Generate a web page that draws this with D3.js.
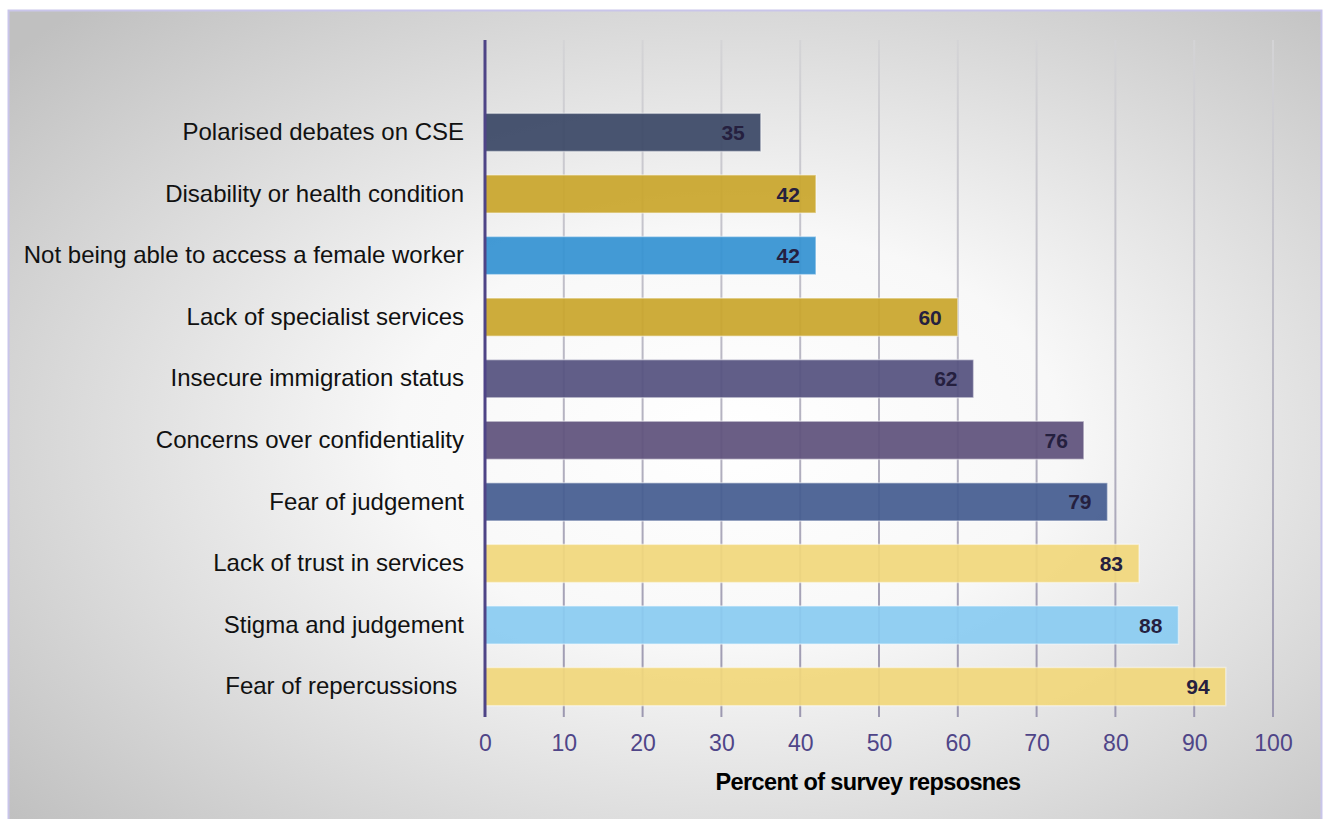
<!DOCTYPE html>
<html>
<head>
<meta charset="utf-8">
<script src="https://cdn.jsdelivr.net/npm/d3@7"></script>
<style>
  body { margin: 0; background: #fff; }
  svg { display: block; font-family: "Liberation Sans", Arial, sans-serif; }
  .cat text { white-space: pre; }
</style>
</head>
<body>
<div id="chart"></div>
<script>
// chart values
const categories = [
  "Polarised debates on CSE",
  "Disability or health condition",
  "Not being able to access a female worker",
  "Lack of specialist services",
  "Insecure immigration status",
  "Concerns over confidentiality",
  "Fear of judgement",
  "Lack of trust in services",
  "Stigma and judgement",
  "Fear of repercussions "
];
const values = [35, 42, 42, 60, 62, 76, 79, 83, 88, 94];
const barColors = [
  "#3b4866", "#c9a62c", "#3592d2", "#c9a62c", "#55527f",
  "#5f527c", "#455d90", "#f1d77c", "#8acbf1", "#f1d77c"
];
const xTicks = [0, 10, 20, 30, 40, 50, 60, 70, 80, 90, 100];
const xTitle = "Percent of survey repsosnes";

const W = 1325, H = 819;
const svg = d3.select("#chart").append("svg")
  .attr("width", W).attr("height", H);

const defs = svg.append("defs");
const bg = defs.append("radialGradient")
  .attr("id", "bg")
  .attr("cx", 0.55).attr("cy", 0.52).attr("r", 0.72);
bg.append("stop").attr("offset", "0%").attr("stop-color", "#ffffff");
bg.append("stop").attr("offset", "35%").attr("stop-color", "#f8f8f8");
bg.append("stop").attr("offset", "100%").attr("stop-color", "#c0c0c0");

const gridGrad = defs.append("linearGradient")
  .attr("id", "grid")
  .attr("gradientUnits", "userSpaceOnUse")
  .attr("x1", 0).attr("y1", 40).attr("x2", 0).attr("y2", 717);
gridGrad.append("stop").attr("offset", "0%").attr("stop-color", "#d4d4d6");
gridGrad.append("stop").attr("offset", "100%").attr("stop-color", "#9c98b0");

// panel
svg.append("rect")
  .attr("x", 8.5).attr("y", 10.5)
  .attr("width", 1313).attr("height", 820)
  .attr("fill", "url(#bg)")
  .attr("stroke", "#c9c5ea")
  .attr("stroke-width", 2);

const x = d3.scaleLinear().domain([0, 100]).range([485, 1273]);
const y = d3.scaleBand()
  .domain(categories)
  .range([101, 718])
  .paddingInner(0.38)
  .paddingOuter(0.2);

// gridlines
svg.append("g")
  .selectAll("line")
  .data(xTicks.filter(d => d > 0))
  .join("line")
  .attr("x1", d => x(d)).attr("x2", d => x(d))
  .attr("y1", 40).attr("y2", 717)
  .attr("stroke", "url(#grid)")
  .attr("stroke-width", 2);

// bars
svg.append("g")
  .selectAll("rect")
  .data(categories)
  .join("rect")
  .attr("x", x(0))
  .attr("y", d => y(d))
  .attr("width", (d, i) => x(values[i]) - x(0))
  .attr("height", y.bandwidth())
  .attr("fill", (d, i) => barColors[i])
  .attr("fill-opacity", 0.93)
  .attr("stroke", "rgba(255,255,255,0.45)")
  .attr("stroke-width", 1.5);

// value labels
svg.append("g")
  .selectAll("text")
  .data(categories)
  .join("text")
  .attr("x", (d, i) => x(values[i]) - 16)
  .attr("y", d => y(d) + y.bandwidth() / 2)
  .attr("dy", "0.36em")
  .attr("text-anchor", "end")
  .attr("font-size", 21)
  .attr("font-weight", "bold")
  .attr("fill", "#25203f")
  .text((d, i) => values[i]);

// category labels
const yAxis = svg.append("g")
  .attr("class", "cat")
  .attr("transform", `translate(${x(0) - 21},0)`)
  .call(d3.axisLeft(y).tickSize(0).tickPadding(0));
yAxis.select(".domain").remove();
yAxis.selectAll("text")
  .attr("font-family", "'Liberation Sans', Arial, sans-serif")
  .attr("font-size", 24)
  .attr("fill", "#111");

// x tick labels
const xAxis = svg.append("g")
  .attr("transform", "translate(0,717)")
  .call(d3.axisBottom(x).tickValues(xTicks).tickSize(0).tickPadding(18));
xAxis.select(".domain").remove();
xAxis.selectAll("text")
  .attr("font-family", "'Liberation Sans', Arial, sans-serif")
  .attr("font-size", 23)
  .attr("fill", "#4f4588");

// zero axis line
svg.append("line")
  .attr("x1", x(0)).attr("x2", x(0))
  .attr("y1", 40).attr("y2", 717)
  .attr("stroke", "#4e4486")
  .attr("stroke-width", 3);

// axis title
svg.append("text")
  .attr("x", 868).attr("y", 790)
  .attr("text-anchor", "middle")
  .attr("font-size", 23.5)
  .attr("font-weight", "bold")
  .attr("letter-spacing", -0.6)
  .attr("fill", "#000")
  .text(xTitle);
</script>
</body>
</html>
